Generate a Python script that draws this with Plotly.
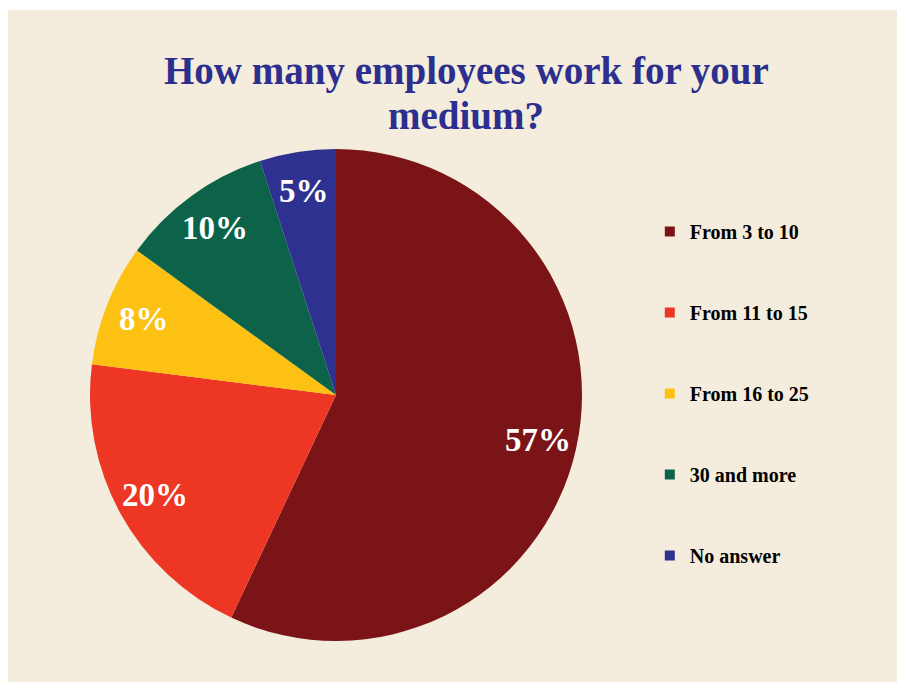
import math
import plotly.graph_objects as go

# Survey answers, clockwise from 12 o'clock
categories = ["From 3 to 10", "From 11 to 15", "From 16 to 25", "30 and more", "No answer"]
shares = [57, 20, 8, 10, 5]
colors = ["#7B1416", "#EE3624", "#FDC113", "#0C634A", "#2E3190"]

W, H = 900, 682
serif = "Liberation Serif, Times New Roman, serif"

# Pie placement in pixels (centre and radius)
cx, cy, r = 336, 395, 246
dom_x = [(cx - r) / W, (cx + r) / W]
dom_y = [(H - cy - r) / H, (H - cy + r) / H]

fig = go.Figure()
fig.add_trace(go.Pie(
    labels=categories,
    values=shares,
    sort=False,
    direction="clockwise",
    rotation=0,
    marker=dict(colors=colors, line=dict(width=0)),
    textinfo="none",
    hoverinfo="label+percent",
    showlegend=False,
    domain=dict(x=dom_x, y=dom_y),
))

# Legend entries, one group each so the group gap spaces them out
for name, col in zip(categories, colors):
    fig.add_trace(go.Scatter(
        x=[None], y=[None], mode="markers", name=name,
        legendgroup=name,
        marker=dict(symbol="square", size=10, color=col),
    ))

# Percentage labels at each slice's mid-angle
annotations = []
total = sum(shares)
acc = 0.0
frac = 0.84
for v in shares:
    mid = (acc + v / 2) / total * 2 * math.pi
    acc += v
    px = cx + frac * r * math.sin(mid)
    py = (H - cy) + frac * r * math.cos(mid)
    annotations.append(dict(
        x=px / W, y=py / H, xref="paper", yref="paper",
        text=f"{v}%", showarrow=False,
        font=dict(family=serif, size=33, color="white", weight="bold"),
        xanchor="center", yanchor="middle",
    ))

# Two-line heading
for line, ypix in [("How many employees work for your", 71), ("medium?", 116)]:
    annotations.append(dict(
        x=466 / W, y=(H - ypix) / H, xref="paper", yref="paper",
        text=line, showarrow=False,
        font=dict(family=serif, size=39, color="#2D2F8E", weight="bold"),
        xanchor="center", yanchor="middle",
    ))

fig.update_layout(
    width=W, height=H,
    margin=dict(l=0, r=0, t=0, b=0),
    paper_bgcolor="white",
    plot_bgcolor="rgba(0,0,0,0)",
    xaxis=dict(visible=False),
    yaxis=dict(visible=False),
    annotations=annotations,
    shapes=[dict(
        type="rect", xref="paper", yref="paper",
        x0=8 / W, x1=897 / W, y0=0, y1=(H - 10) / H,
        fillcolor="#F4EDDD", line=dict(width=0), layer="below",
    )],
    legend=dict(
        x=0.722, y=(H - 212) / H, xanchor="left", yanchor="top",
        bgcolor="rgba(0,0,0,0)",
        font=dict(family=serif, size=20, color="black", weight="bold"),
        tracegroupgap=52,
        itemwidth=30,
    ),
)

fig.write_html("out.html")
